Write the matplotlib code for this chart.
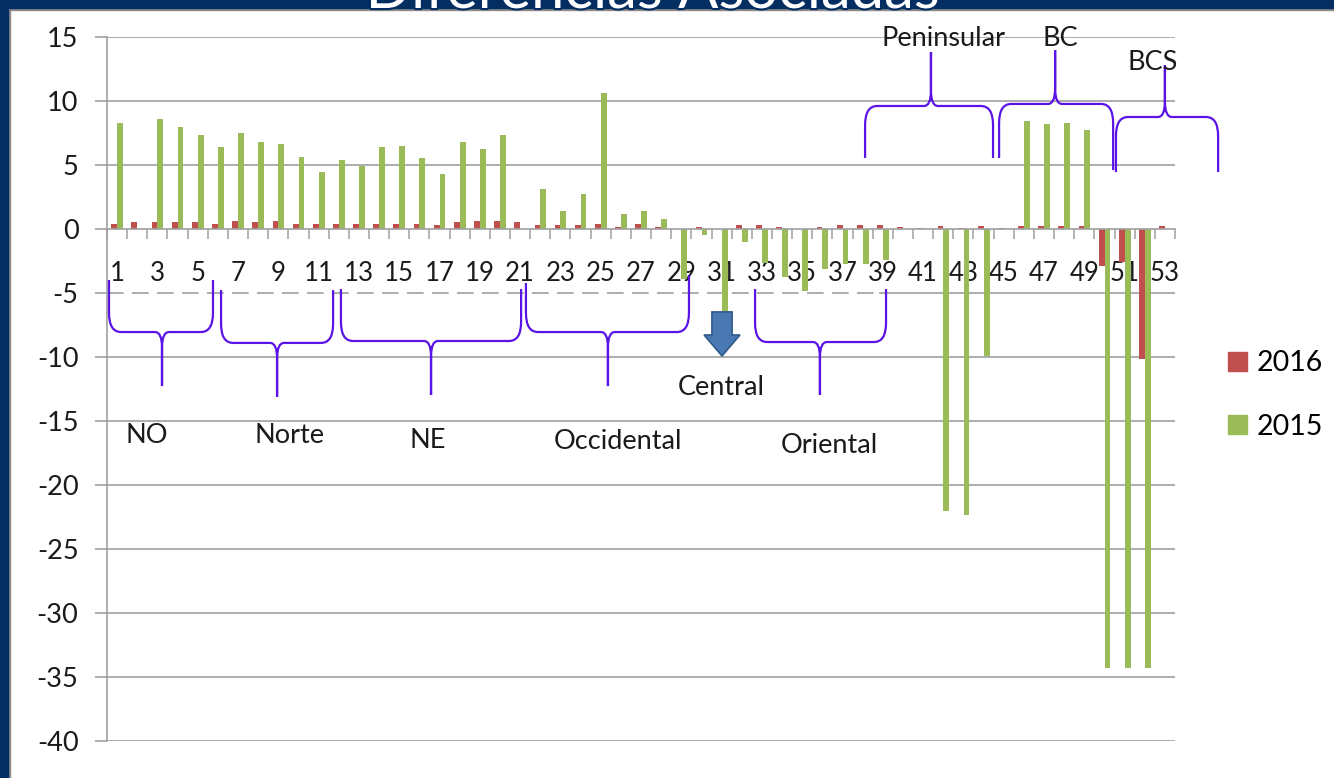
import matplotlib
matplotlib.use('Agg')
import matplotlib.pyplot as plt
import matplotlib.patheffects as pe
from matplotlib.path import Path
from matplotlib.patches import PathPatch, Polygon, Rectangle, Patch
import numpy as np

plt.rcParams['font.family'] = ['Lato', 'DejaVu Sans']
plt.rcParams['axes.unicode_minus'] = False

# datos
categorias = list(range(1, 54))
v2016 = [0.41, 0.54, 0.54, 0.54, 0.54, 0.41, 0.65, 0.54, 0.65, 0.41,
         0.41, 0.41, 0.41, 0.41, 0.41, 0.41, 0.28, 0.54, 0.65, 0.65,
         0.54, 0.28, 0.28, 0.28, 0.41, 0.16, 0.41, 0.16, 0.0, 0.16,
         0.0, 0.29, 0.29, 0.16, 0.0, 0.16, 0.29, 0.29, 0.29, 0.12,
         0.10, 0.23, 0.10, 0.23, 0.06, 0.23, 0.23, 0.23, 0.23, -2.87,
         -2.6, -10.15, 0.23]
v2015 = [8.32, 0.0, 8.58, 7.98, 7.36, 6.37, 7.49, 6.76, 6.63, 5.65,
         4.43, 5.41, 4.95, 6.37, 6.50, 5.52, 4.30, 6.76, 6.27, 7.36,
         0.0, 3.11, 1.37, 2.72, 10.65, 1.14, 1.37, 0.78, -3.9, -0.44,
         -6.6, -1.04, -2.66, -3.75, -4.82, -3.13, -2.71, -2.73, -2.4, 0.0,
         0.0, -22.04, -22.38, -9.89, 0.0, 8.44, 8.18, 8.31, 7.71, -34.3,
         -34.3, -34.3, 0.0]
yticks = list(range(-40, 16, 5))

# llaves: etiqueta, x0, x1, brazo izq, brazo der, barra, x punta, y punta, x texto, y texto
regiones = [
    ('NO', 0.60, 5.76, -3.98, -3.98, -8.05, 3.23, -12.27, 2.49, -16.1),
    ('Norte', 6.16, 11.72, -4.77, -4.77, -8.90, 8.94, -13.1, 9.58, -16.1),
    ('NE', 12.11, 21.05, -4.69, -4.69, -8.75, 16.58, -12.97, 16.43, -16.5),
    ('Occidental', 21.29, 29.38, -4.22, -3.6, -8.05, 25.36, -12.27, 25.86, -16.64),
    ('Oriental', 32.66, 39.16, -4.69, -4.69, -8.83, 35.88, -12.97, 36.33, -16.9),
    ('Peninsular', 38.12, 44.47, 5.55, 5.55, 9.61, 41.39, 13.83, 41.99, 14.92),
    ('BC', 44.77, 50.43, 5.55, 4.6, 9.77, 47.55, 13.98, 47.8, 14.92),
    ('BCS', 50.57, 55.64, 4.45, 4.45, 8.75, 53.0, 12.8, 52.4, 12.97),
]

RED = '#C0504D'
GREEN = '#9BBB59'
GRID = '#A0A0A0'
PURPLE = '#5A14E6'
NAVY = '#042E62'
TXT = '#1a1a1a'


def brace(ax, x0, x1, ya0, ya1, yb, xt, yt):
    d = np.sign(ya0 - yb)
    rxa, rya = 0.6, 1.5
    rxt, ryt = 0.35, 1.2
    verts = [(x0, ya0), (x0, yb + d * rya), (x0, yb), (x0 + rxa, yb),
             (xt - rxt, yb), (xt, yb), (xt, yb - d * ryt), (xt, yt),
             (xt, yt), (xt, yb - d * ryt), (xt, yb), (xt + rxt, yb),
             (x1 - rxa, yb), (x1, yb), (x1, yb + d * rya), (x1, ya1)]
    half = [Path.MOVETO, Path.LINETO, Path.CURVE3, Path.CURVE3,
            Path.LINETO, Path.CURVE3, Path.CURVE3, Path.LINETO]
    codes = half + half
    ax.add_patch(PathPatch(Path(verts, codes), fill=False, ec=PURPLE, lw=1.6,
                           clip_on=False, zorder=6))


fig = plt.figure(figsize=(13.34, 7.78), dpi=100)
ax = fig.add_axes([107 / 1334, 1 - 741 / 778, (1175 - 107) / 1334, (741 - 37) / 778])

x = np.array(categorias)
ax.bar(x - 0.14, v2016, width=0.29, color=RED, zorder=2)
ax.bar(x + 0.15, v2015, width=0.29, color=GREEN, zorder=2)

ax.set_xlim(0.5, 53.5)
ax.set_ylim(-40, 15)

# lineas de division
for v in yticks:
    if v == 0:
        continue
    if v == -5:
        ax.plot([0.5, 38.86], [v, v], color=GRID, lw=1.2, ls=(0, (10, 5)), zorder=0)
        ax.plot([38.86, 53.5], [v, v], color=GRID, lw=1.2, zorder=0)
    else:
        ax.axhline(v, color=GRID, lw=1.2, zorder=0)

for s in ['top', 'right']:
    ax.spines[s].set_visible(False)
ax.spines['bottom'].set_position(('data', 0))
ax.spines['bottom'].set_color(GRID)
ax.spines['bottom'].set_linewidth(1.2)
ax.spines['left'].set_color(GRID)
ax.spines['left'].set_linewidth(1.2)

ax.set_xticks(x[::2])
ax.set_xticklabels([str(c) for c in categorias[::2]])
ax.set_xticks(np.arange(0.5, 54, 1), minor=True)
ax.tick_params(axis='x', which='major', length=0, pad=23, labelsize=18.5, labelcolor=TXT)
ax.tick_params(axis='x', which='minor', length=7.5, color=GRID, width=1.1)
ax.set_yticks(yticks)
ax.set_yticklabels([str(v) for v in yticks])
ax.tick_params(axis='y', length=8.6, color=GRID, width=1.2, pad=12, labelsize=19.5,
               labelcolor=TXT)

for nombre, x0, x1, ya0, ya1, yb, xt, yt, lx, ly in regiones:
    brace(ax, x0, x1, ya0, ya1, yb, xt, yt)
    ax.text(lx, ly, nombre, ha='center', va='center', fontsize=19.5, color=TXT,
            clip_on=False, zorder=7)

# flecha central
ax.text(30.97, -12.4, 'Central', ha='center', va='center', fontsize=19.5, color=TXT, zorder=7)
xa = 31.02
ax.add_patch(Polygon([(xa - 0.5, -6.48), (xa + 0.5, -6.48), (xa + 0.5, -8.28),
                      (xa + 0.89, -8.28), (xa, -9.92), (xa - 0.89, -8.28),
                      (xa - 0.5, -8.28)], closed=True, fc='#4A78B2', ec='#2F5A8A',
                     lw=1.2, zorder=7))

fig.legend(handles=[Patch(color=RED, label='2016'), Patch(color=GREEN, label='2015')],
           loc='center left', bbox_to_anchor=(1228 / 1334, 1 - 395 / 778), frameon=False,
           fontsize=20.5, handlelength=0.65, handleheight=0.65, handletextpad=0.35,
           labelspacing=1.3, borderpad=0, borderaxespad=0)

# marco azul de la diapositiva
fig.add_artist(Rectangle((8 / 1334, 1 - 10 / 778), 1, 2 / 778, transform=fig.transFigure,
                         color='#8C8C8C', zorder=9))
fig.add_artist(Rectangle((8 / 1334, 0), 2 / 1334, 1 - 8 / 778, transform=fig.transFigure,
                         color='#8C8C8C', zorder=9))
fig.add_artist(Rectangle((0, 1 - 8 / 778), 1, 8 / 778, transform=fig.transFigure,
                         color=NAVY, zorder=10))
fig.add_artist(Rectangle((0, 0), 8 / 1334, 1, transform=fig.transFigure,
                         color=NAVY, zorder=10))
fig.text(0.4895, 1 - 8 / 778, 'Diferencias Asociadas', ha='center', va='baseline',
         fontsize=43, color='white', zorder=11,
         path_effects=[pe.withStroke(linewidth=3, foreground=NAVY)])

fig.savefig('out.png', dpi=100, facecolor='white')
